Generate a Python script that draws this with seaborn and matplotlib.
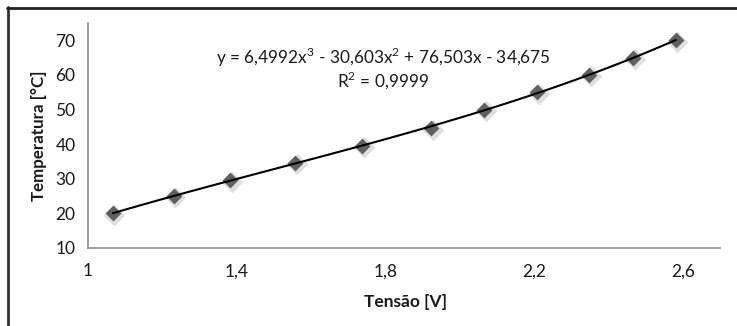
import numpy as np
import pandas as pd
import matplotlib
matplotlib.use("Agg")
import matplotlib.pyplot as plt
from matplotlib.ticker import MultipleLocator, FuncFormatter
import seaborn as sns

# leituras (tensão em V, temperatura em °C)
tensao = [1.067, 1.231, 1.383, 1.558, 1.738, 1.923, 2.066, 2.208, 2.348, 2.466, 2.581]
temperatura = [20, 25, 29.6, 34.6, 39.6, 44.6, 50, 55, 60, 65, 70]
x_ticks = [1.0, 1.2, 1.4, 1.6, 1.8, 2.0, 2.2, 2.4, 2.6]
x_labels = ["1", "", "1,4", "", "1,8", "", "2,2", "", "2,6"]
equacao = "y = 6,4992x$^3$ - 30,603x$^2$ + 76,503x - 34,675"
r2 = "R$^2$ = 0,9999"

df = pd.DataFrame({"Tensão": tensao, "Temperatura": temperatura})

sns.set_style("white")
plt.rcParams["font.family"] = ["Lato", "DejaVu Sans"]
plt.rcParams["mathtext.fontset"] = "custom"
plt.rcParams["mathtext.rm"] = "Lato"

fig = plt.figure(figsize=(7.37, 3.26), dpi=100)
ax = fig.add_axes([0.1194, 0.2393, 0.8576, 0.69])

# sombra difusa dos pontos, como no Excel
ax.scatter(np.array(tensao) + 0.004, np.array(temperatura) - 0.4, marker="D", s=120,
           color="#b8b8b8", alpha=0.45, linewidths=0, zorder=2)
sns.regplot(data=df, x="Tensão", y="Temperatura", order=3, ci=None, ax=ax, marker="D",
            scatter_kws={"s": 65, "color": "#606060", "linewidths": 0, "zorder": 3, "alpha": 1},
            line_kws={"color": "black", "lw": 1.5, "zorder": 4})

ax.set_xlim(1, 2.7)
ax.set_ylim(10, 75)
ax.set_xticks(x_ticks)
ax.set_xticklabels(x_labels)
ax.yaxis.set_major_locator(MultipleLocator(10))
ax.yaxis.set_major_formatter(FuncFormatter(lambda v, p: "" if v > 70 else f"{v:.0f}"))

for s in ["top", "right"]:
    ax.spines[s].set_visible(False)
for s in ["left", "bottom"]:
    ax.spines[s].set_color("#8c8c8c")
    ax.spines[s].set_linewidth(1.2)
ax.tick_params(axis="both", direction="out", length=5, width=1, color="#8c8c8c",
               labelsize=12.5, labelcolor="#1a1a1a", pad=4)
ax.tick_params(axis="x", pad=6)

ax.set_xlabel("Tensão [V]", fontsize=12.5, fontweight="bold", color="#1a1a1a")
ax.set_ylabel("Temperatura [°C]", fontsize=12.2, fontweight="bold", color="#1a1a1a", labelpad=6)
ax.xaxis.label.set_va("center")
ax.xaxis.set_label_coords((405 - 88) / 632, -(302 - 248) / 225)

ax.text(0.467, 0.847, equacao, transform=ax.transAxes, ha="center", va="center",
        fontsize=12.4, color="#1a1a1a")
ax.text(0.467, 0.748, r2, transform=ax.transAxes, ha="center", va="center",
        fontsize=12.4, color="#1a1a1a")

# moldura do gráfico (só esquerda e topo visíveis no recorte)
fig.add_artist(plt.Line2D([7.5 / 737, 7.5 / 737], [0, 1 - 7 / 326], color="#333333", lw=2))
fig.add_artist(plt.Line2D([7 / 737, 1], [1 - 7.5 / 326, 1 - 7.5 / 326], color="#222222", lw=2))

fig.savefig("out.png", dpi=100)
